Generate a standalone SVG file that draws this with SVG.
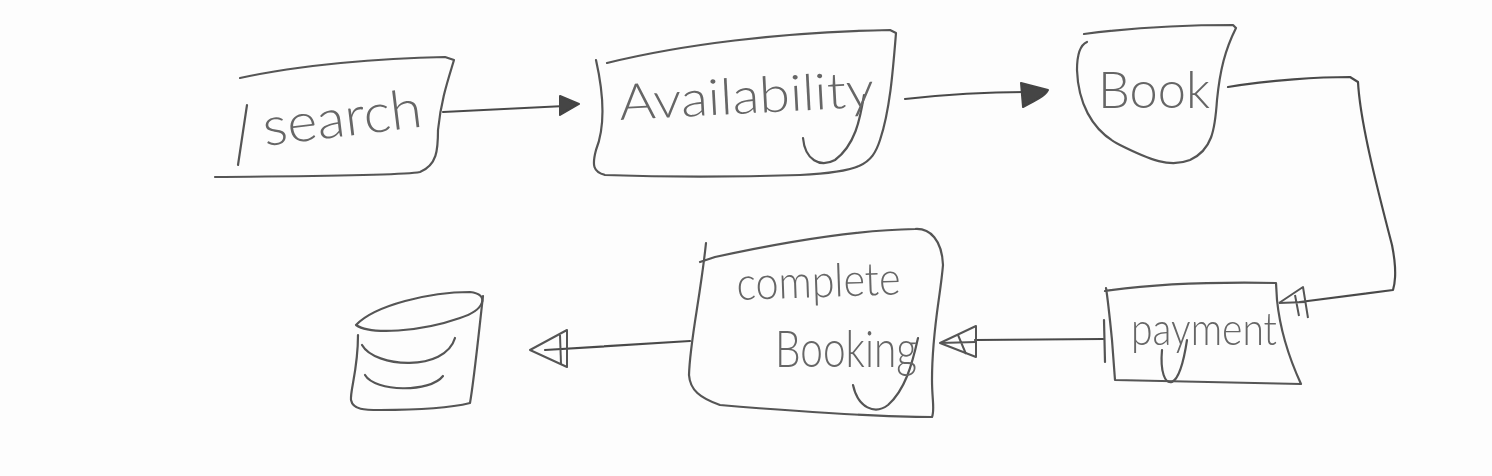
<svg xmlns="http://www.w3.org/2000/svg" width="1492" height="476" viewBox="0 0 1492 476">
<defs>
<style>
.s{fill:none;stroke:#555;stroke-width:2.2;stroke-linecap:round;stroke-linejoin:round}
.c{fill:none;stroke:#4a4a4a;stroke-width:2.2;stroke-linecap:round;stroke-linejoin:round}
.h{fill:#444;stroke:#444;stroke-width:2;stroke-linejoin:round}
.o{fill:none;stroke:#555;stroke-width:2;stroke-linejoin:round}
.t{font-family:"Lato","Open Sans",sans-serif;font-weight:300;fill:#666}
</style>
<filter id="b" x="-5%" y="-5%" width="110%" height="110%"><feGaussianBlur stdDeviation="0.55"/></filter>
</defs>
<rect width="1492" height="476" fill="#fdfdfd"/>
<g filter="url(#b)">
<g id="search">
<path class="s" d="M240 78C300 65 380 58 445 57L454 60C448 80 441 100 438 130C438 150 437 165 420 172C400 176 300 176 215 177"/>
<path class="s" d="M247 105L238 165"/>
<text class="t" x="265" y="146" font-size="54" textLength="160" lengthAdjust="spacingAndGlyphs" transform="rotate(-7 265 146)">search</text>
</g>
<g id="availability">
<path class="s" d="M607 63C680 45 780 32 890 30L896 33C893 70 890 110 880 140C872 165 860 172 800 175C740 177 660 177 605 175C593 172 592 165 596 150C604 130 605 100 596 60"/>
<path class="s" d="M803 138C805 160 820 168 835 160C855 145 860 120 864 95"/>
<text class="t" x="620" y="120" font-size="50" textLength="255" lengthAdjust="spacingAndGlyphs" transform="rotate(-3 620 120)">Availability</text>
</g>
<g id="book">
<path class="s" d="M1084 34C1130 28 1190 25 1233 25L1236 28C1225 50 1220 70 1217 100C1215 130 1212 150 1190 160C1170 168 1150 160 1120 145C1090 130 1078 100 1077 70C1077 55 1080 45 1087 42"/>
<text class="t" x="1098" y="108" font-size="52" textLength="112" lengthAdjust="spacingAndGlyphs">Book</text>
</g>
<g id="payment">
<path class="s" d="M1105 291C1160 283 1220 282 1276 283L1277 300C1280 330 1290 360 1301 384L1115 380L1112 340C1110 320 1108 300 1106 288"/>
<path class="s" d="M1104 320L1105 362"/>
<path class="s" d="M1162 350C1160 372 1165 384 1172 382C1180 378 1184 360 1187 340"/>
<text class="t" x="1131" y="345" font-size="46" textLength="146" lengthAdjust="spacingAndGlyphs">payment</text>
</g>
<g id="complete-booking">
<path class="s" d="M700 262L715 257C770 245 850 230 915 229C930 228 942 240 943 265C940 300 932 330 932 380C932 400 935 410 932 417C880 417 780 410 720 405C700 398 690 390 689 375C690 340 700 300 706 243"/>
<path class="s" d="M853 385C858 408 875 415 888 405C905 390 912 365 918 338"/>
<text class="t" x="737" y="300" font-size="46" textLength="164" lengthAdjust="spacingAndGlyphs" transform="rotate(-2 737 300)">complete</text>
<text class="t" x="775" y="367" font-size="52" textLength="142" lengthAdjust="spacingAndGlyphs">Booking</text>
</g>
<g id="database">
<path class="s" d="M356 325C375 305 430 292 470 292C490 294 485 310 460 318C420 332 370 335 356 325Z"/>
<path class="s" d="M358 335C358 370 350 390 351 400C353 410 365 410 380 410C420 410 450 408 470 403C474 380 478 340 483 296"/>
<path class="s" d="M362 345C375 368 445 372 455 338"/>
<path class="s" d="M365 375C375 392 430 393 443 376"/>
</g>
<g id="connectors">
<path class="c" d="M443 112L565 106"/>
<path class="h" d="M560 96L579 104L560 115Z"/>
<path class="c" d="M905 99C950 94 1000 92 1025 92"/>
<path class="h" d="M1021 83L1048 90C1045 96 1035 101 1023 107Z"/>
<path class="c" d="M1228 87C1270 80 1320 77 1350 77L1358 82C1360 120 1375 180 1392 245C1396 265 1396 280 1393 290L1300 302"/>
<path class="o" d="M1279 303L1303 287L1308 318"/>
<path class="o" d="M1279 303L1306 302M1295 295L1299 316"/>
<path class="c" d="M1103 339L975 340"/>
<path class="o" d="M940 343L976 326L976 357Z"/>
<path class="o" d="M940 343L976 342M958 335L966 354"/>
<path class="c" d="M690 341L545 350"/>
<path class="o" d="M567 330L530 350L567 367Z"/>
<path class="o" d="M560 335L561 364"/>
</g>
</g>
</svg>
